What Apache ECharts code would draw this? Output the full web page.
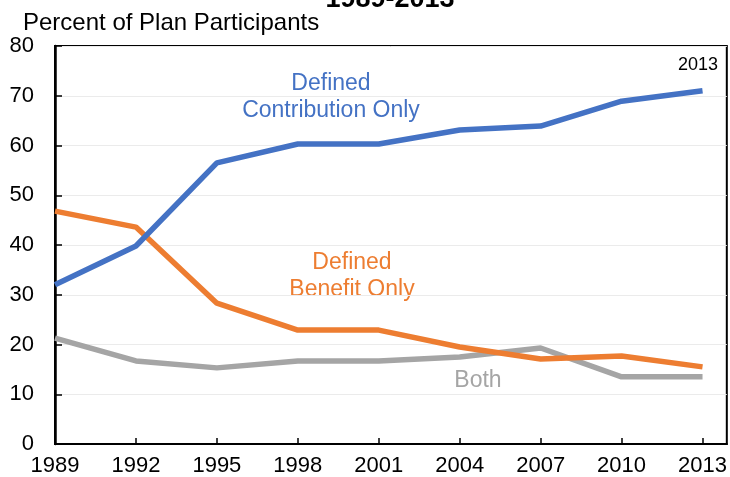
<!DOCTYPE html>
<html><head><meta charset="utf-8">
<script src="https://cdn.jsdelivr.net/npm/echarts@6/dist/echarts.min.js"></script>
<style>html,body{margin:0;padding:0;background:#fff}#c{width:730px;height:477px}</style>
</head><body><div id="c"></div>
<script>
const years = [1989, 1992, 1995, 1998, 2001, 2004, 2007, 2010, 2013];
const definedContribution = [32.0, 39.8, 56.5, 60.3, 60.3, 63.1, 63.9, 68.9, 71.0];
const definedBenefit = [46.8, 43.6, 28.3, 22.9, 22.9, 19.5, 17.1, 17.7, 15.5];
const both = [21.3, 16.7, 15.3, 16.7, 16.7, 17.5, 19.3, 13.5, 13.5];
const yTicks = [0, 10, 20, 30, 40, 50, 60, 70, 80];

const F = 'Liberation Sans, Arial, sans-serif';
const chart = echarts.init(document.getElementById('c'));
const pair = (xs, ys) => xs.map((x, i) => [x, ys[i]]);
const mk = (name, data, color) => ({
  name, type: 'line', data: pair(years, data), showSymbol: false,
  lineStyle: { color, width: 5.5 }, itemStyle: { color }, animation: false
});
const txt = (text, x, y, size, color, extra) => ({
  type: 'text', x, y,
  style: Object.assign({ text, font: size + 'px ' + F, fill: color, align: 'center', verticalAlign: 'middle' }, extra || {})
});
chart.setOption({
  animation: false,
  grid: { left: 55, right: 3, top: 46, bottom: 33, show: true, borderColor: '#000', borderWidth: 2 },
  xAxis: {
    type: 'value', min: 1989, max: 2013.9, interval: 3,
    axisLine: { lineStyle: { color: '#000', width: 2 } },
    axisTick: { inside: true, length: 6, lineStyle: { color: '#000', width: 1.5 } },
    axisLabel: { fontFamily: F, fontSize: 22, color: '#000', margin: 11, showMaxLabel: false,
      formatter: v => years.includes(v) ? String(v) : '' },
    splitLine: { show: false }
  },
  yAxis: {
    type: 'value', min: yTicks[0], max: yTicks[yTicks.length - 1], interval: 10,
    axisLine: { show: true, lineStyle: { color: '#000', width: 2.5 } },
    axisTick: { show: true, inside: true, length: 7, lineStyle: { color: '#000', width: 1.5 } },
    axisLabel: { fontFamily: F, fontSize: 22, color: '#000', margin: 21 },
    splitLine: { lineStyle: { color: '#ebebeb', width: 1 } }
  },
  series: [
    mk('Both', both, '#A5A5A5'),
    mk('Defined Benefit Only', definedBenefit, '#ED7D31'),
    mk('Defined Contribution Only', definedContribution, '#4472C4')
  ],
  graphic: [
    txt('1989-2013', 390, 0, 27, '#000', { font: 'bold 27px ' + F, verticalAlign: 'bottom', y: 13 }),
    txt('Percent of Plan Participants', 23, 23, 24, '#000', { align: 'left' }),
    txt('2013', 698, 65, 18, '#000'),
    txt('Defined', 331, 84, 23, '#4472C4'),
    txt('Contribution Only', 331, 111, 23, '#4472C4'),
    txt('Defined', 352, 263, 23, '#ED7D31'),
    txt('Benefit Only', 352, 290, 23, '#ED7D31'),
    txt('Both', 478, 381, 23, '#A5A5A5')
  ]
});
</script></body></html>
